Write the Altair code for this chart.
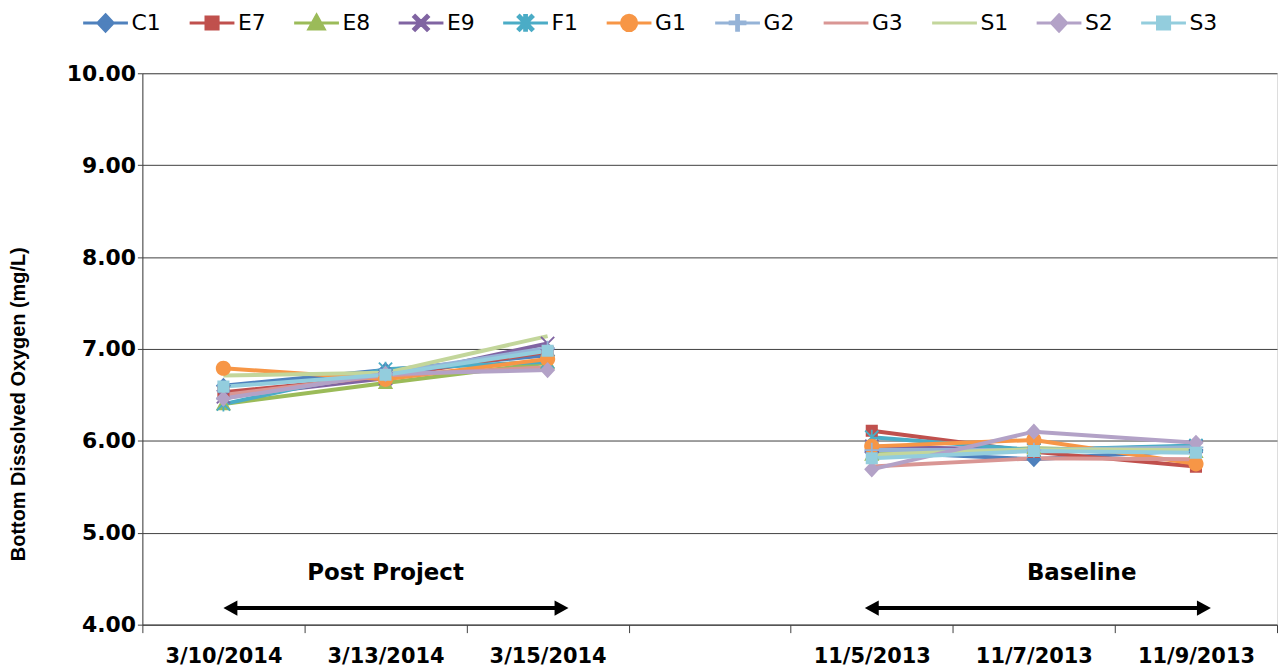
import altair as alt
import pandas as pd

# ---------------- data ----------------
dates = ["3/10/2014", "3/13/2014", "3/15/2014", " ", "11/5/2013", "11/7/2013", "11/9/2013"]
measured_dates = ["3/10/2014", "3/13/2014", "3/15/2014", "11/5/2013", "11/7/2013", "11/9/2013"]
date_groups = ["Post Project", "Post Project", "Post Project", "Baseline", "Baseline", "Baseline"]
series = ["C1", "E7", "E8", "E9", "F1", "G1", "G2", "G3", "S1", "S2", "S3"]

C1 = [6.60, 6.77, 6.93, 5.88, 5.80, 5.90]
E7 = [6.53, 6.70, 6.97, 6.11, 5.88, 5.72]
E8 = [6.40, 6.63, 6.85, 5.85, 5.92, 5.88]
E9 = [6.48, 6.68, 7.06, 5.94, 5.90, 5.94]
F1 = [6.40, 6.78, 6.86, 6.04, 5.90, 5.95]
G1 = [6.79, 6.67, 6.89, 5.94, 6.01, 5.75]
G2 = [6.46, 6.73, 7.01, 5.90, 5.90, 5.93]
G3 = [6.50, 6.71, 6.80, 5.72, 5.81, 5.80]
S1 = [6.71, 6.74, 7.14, 5.85, 5.91, 5.90]
S2 = [6.46, 6.73, 6.77, 5.69, 6.10, 5.98]
S3 = [6.59, 6.72, 6.98, 5.81, 5.89, 5.87]
values_by_series = [C1, E7, E8, E9, F1, G1, G2, G3, S1, S2, S3]

colors = ["#4F81BD", "#C0504D", "#9BBB59", "#8064A2", "#4BACC6", "#F79646",
          "#95B3D7", "#D99694", "#C3D69B", "#B3A2C7", "#93CDDD"]

y_ticks = [4, 5, 6, 7, 8, 9, 10]

ann_labels = ["Post Project", "Baseline"]
ann_start = ["3/10/2014", "11/5/2013"]
ann_end = ["3/15/2014", "11/9/2013"]
ann_mid = ["3/13/2014", "11/7/2013"]

# ---------------- marker shapes (line + marker; line only shows in legend) ----------------
LINE = "M-1,0L1,0M0,-0.36M0,0.36"
diamond = LINE + "M0,-0.36L0.34,0L0,0.36L-0.34,0Z"
square = LINE + "M-0.27,-0.27L0.27,-0.27L0.27,0.27L-0.27,0.27Z"
triangle = LINE + "M0,-0.34L0.34,0.27L-0.34,0.27Z"
circle = LINE + "M-0.34,0A0.34,0.34 0 1,0 0.34,0A0.34,0.34 0 1,0 -0.34,0Z"
xbars = ("M-0.265,-0.325L0.325,0.265L0.265,0.325L-0.325,-0.265Z"
         "M-0.325,0.265L0.265,-0.325L0.325,-0.265L-0.265,0.325Z")
vbar = "M-0.04,-0.33L0.04,-0.33L0.04,0.33L-0.04,0.33Z"
hbar = "M-0.33,-0.04L0.33,-0.04L0.33,0.04L-0.33,0.04Z"
xmark = LINE + xbars
star = LINE + xbars + vbar
plus = LINE + vbar + hbar
none = LINE
shapes = [diamond, square, triangle, xmark, star, circle, plus, none, none, diamond, square]

rows = []
for s, vals in zip(series, values_by_series):
    for i, (d, g, v) in enumerate(zip(measured_dates, date_groups, vals)):
        rows.append({"series": s, "date": d, "grp": g, "value": v, "idx": i})
df = pd.DataFrame(rows)

ann = pd.DataFrame({"label": ann_labels, "start": ann_start, "end": ann_end, "mid": ann_mid})

FONT = "DejaVu Sans"

xscale = alt.Scale(domain=dates, paddingInner=0, paddingOuter=0)
yscale = alt.Scale(domain=[4, 10], nice=False, zero=False)

x_enc = alt.X("date:N", scale=xscale, sort=dates, axis=alt.Axis(
    title=None, labelAngle=0, labelFont=FONT, labelFontWeight="bold", labelFontSize=21,
    labelColor="black", tickBand="extent", ticks=True, tickSize=8, tickColor="#404040",
    domainColor="#404040", labelPadding=13, grid=False))
y_enc = alt.Y("value:Q", scale=yscale, axis=alt.Axis(
    values=y_ticks, format=".2f", title="Bottom Dissolved Oxygen (mg/L)",
    titleFont="Liberation Sans", titleFontSize=20, titleFontWeight="bold", titleColor="black",
    titlePadding=38, titleY=332, labelFont=FONT, labelFontWeight="bold", labelFontSize=22,
    labelColor="black", tickSize=5, tickColor="#404040", labelPadding=2, domainColor="#404040",
    grid=True, gridColor="#404040", gridWidth=1))

# series are already in alphabetical order, so the implicit domain matches `colors`
lines = alt.Chart(df).mark_line(strokeWidth=4).encode(
    x=x_enc,
    y=y_enc,
    color=alt.Color("series:N", scale=alt.Scale(range=colors), legend=None),
    detail="grp:N",
    order="idx:Q",
)

legend = alt.Legend(title=None, orient="none", legendX=-61, legendY=-75, direction="horizontal",
                    columns=11, symbolSize=2025, symbolStrokeWidth=3, labelFont=FONT,
                    labelFontSize=22, labelColor="black", labelOffset=2, columnPadding=22,
                    padding=0, symbolOpacity=1, labelBaseline="middle")

points = alt.Chart(df).mark_point(filled=True, strokeWidth=0, opacity=1, size=2025).encode(
    x=alt.X("date:N", scale=xscale, sort=dates),
    y=alt.Y("value:Q", scale=yscale),
    fill=alt.Fill("series:N", scale=alt.Scale(domain=series, range=colors), legend=legend),
    stroke=alt.Stroke("series:N", scale=alt.Scale(domain=series, range=colors), legend=legend),
    shape=alt.Shape("series:N", scale=alt.Scale(domain=series, range=shapes), legend=legend),
)

ARROW_Y = 4.18
LEFT_HEAD = "M-1,0L1,-1.1L1,1.1Z"
RIGHT_HEAD = "M1,0L-1,-1.1L-1,1.1Z"


def arrow(i, left_off, right_off):
    sub = ann.iloc[[i]]
    rule = alt.Chart(sub).mark_rule(strokeWidth=4, color="black",
                                    xOffset=left_off + 7, x2Offset=right_off - 7).encode(
        x=alt.X("start:N", scale=xscale), x2="end:N", y=alt.datum(ARROW_Y))
    lh = alt.Chart(sub).mark_point(shape=LEFT_HEAD, filled=True, color="black", size=196,
                                   opacity=1, xOffset=left_off + 7).encode(
        x=alt.X("start:N", scale=xscale), y=alt.datum(ARROW_Y))
    rh = alt.Chart(sub).mark_point(shape=RIGHT_HEAD, filled=True, color="black", size=196,
                                   opacity=1, xOffset=right_off - 7).encode(
        x=alt.X("end:N", scale=xscale), y=alt.datum(ARROW_Y))
    return [rule, lh, rh]


def label(i, dx):
    sub = ann.iloc[[i]]
    return alt.Chart(sub).mark_text(font=FONT, fontWeight="bold", fontSize=23, color="black",
                                    dx=dx, baseline="middle").encode(
        x=alt.X("mid:N", scale=xscale), y=alt.datum(4.56), text="label:N")


layers = [lines, points] + arrow(0, 0, 21) + arrow(1, -7, 15) + [label(0, 0), label(1, 48)]

chart = alt.layer(*layers).properties(
    width=1140, height=554,
    padding={"left": 135, "top": 64, "right": 2, "bottom": 45},
    autosize=alt.AutoSizeParams(type="none"),
).configure_view(stroke="#404040", strokeWidth=1).configure(background="white")

chart.save("out.html", embed_options={"renderer": "svg", "actions": False})
